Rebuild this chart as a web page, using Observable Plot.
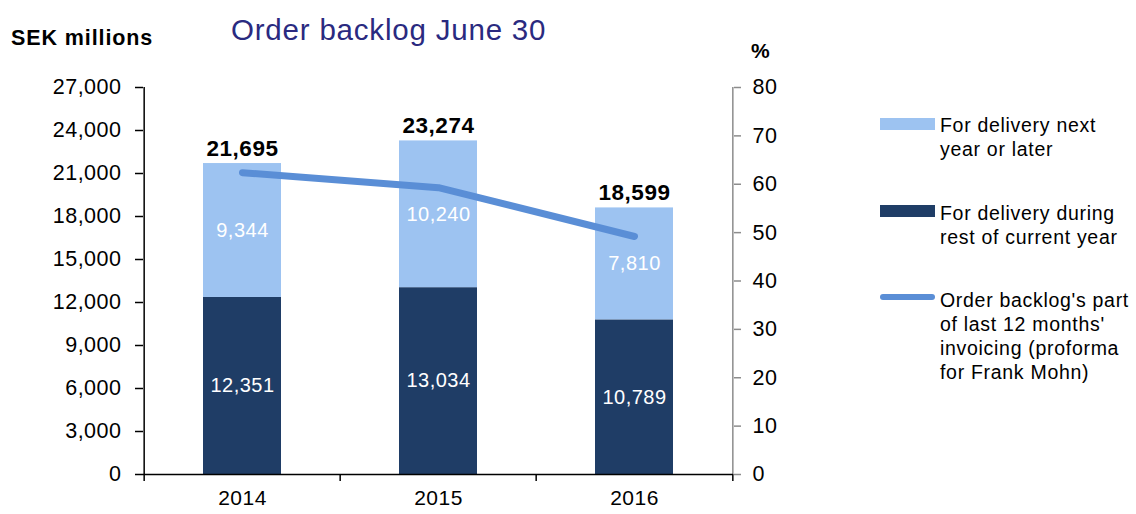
<!DOCTYPE html>
<html>
<head>
<meta charset="utf-8">
<script src="https://cdn.jsdelivr.net/npm/d3@7"></script>
<script src="https://cdn.jsdelivr.net/npm/@observablehq/plot@0.6"></script>
<style>
  html, body { margin: 0; padding: 0; background: #fff; }
  #wrap { position: relative; width: 1136px; height: 514px; font-family: "Liberation Sans", Arial, sans-serif; letter-spacing: 0.6px; color: #000; }
  #chart { position: absolute; left: 0; top: 0; }
  .abs { position: absolute; white-space: nowrap; }
  #title { left: 231px; top: 15px; font-size: 29.5px; color: #2A2A80; line-height: 1; letter-spacing: 0.8px; }
  #unitL { left: 11px; top: 28px; font-size: 21.5px; font-weight: bold; line-height: 1; letter-spacing: 0.9px; }
  #unitR { left: 751px; top: 40px; font-size: 21px; font-weight: bold; line-height: 1; }
  .lg-text { font-size: 19.5px; line-height: 24px; left: 940px; letter-spacing: 0.7px; }
  .sw { position: absolute; left: 880px; width: 55px; }
</style>
</head>
<body>
<div id="wrap">
  <div id="chart"></div>
  <div class="abs" id="title">Order backlog June 30</div>
  <div class="abs" id="unitL">SEK millions</div>
  <div class="abs" id="unitR">%</div>
  <div id="legend"></div>
</div>
<script>
// ---- Data ----
const years = ["2014", "2015", "2016"];
const currentYear = [12351, 13034, 10789];   // For delivery during rest of current year
const nextYear = [9344, 10240, 7810];         // For delivery next year or later
const totals = [21695, 23274, 18599];
const sharePct = [62.4, 59.3, 49.2];          // Order backlog's part of last 12 months' invoicing (%)
const seriesNames = ["For delivery during rest of current year", "For delivery next year or later"];
const seriesColors = ["#1F3D66", "#9DC3F1"];
const lineName = "Order backlog's part of last 12 months' invoicing (proforma for Frank Mohn)";
const lineColor = "#5A8ED6";
const leftTicks = [0, 3000, 6000, 9000, 12000, 15000, 18000, 21000, 24000, 27000];
const rightTicks = [0, 10, 20, 30, 40, 50, 60, 70, 80];

// ---- Layout ----
const W = 1136, H = 514;
const mL = 143, mR = 403, mT = 87, mB = 40;
const yMax = 27000, pMax = 80;
const k = yMax / pMax; // percent -> left-axis units
const step = (W - mL - mR) / years.length;
const tickPx = 7;
const tickData = tickPx * yMax / (H - mT - mB);

const rows = [];
years.forEach((y, i) => {
  rows.push({year: y, series: seriesNames[0], value: currentYear[i]});
  rows.push({year: y, series: seriesNames[1], value: nextYear[i]});
});
const tot = years.map((y, i) => ({year: y, total: totals[i]}));
const line = years.map((y, i) => ({year: y, pct: sharePct[i]}));

const chart = Plot.plot({
  width: W, height: H,
  marginLeft: mL, marginRight: mR, marginTop: mT, marginBottom: mB,
  style: {fontFamily: '"Liberation Sans", Arial, sans-serif', fontSize: "21.5px", letterSpacing: "0.5px", color: "#000", background: "transparent"},
  x: {domain: years, paddingInner: 0.6, paddingOuter: 0.3, axis: null, label: null},
  y: {domain: [0, yMax], axis: null, label: null},
  color: {domain: seriesNames, range: seriesColors},
  marks: [
    Plot.barY(rows, {x: "year", y: "value", fill: "series", order: seriesNames}),
    // segment labels
    Plot.text(rows, Plot.stackY({x: "year", y: "value", z: "series", order: seriesNames,
      text: d => d3.format(",")(d.value), fill: "white", fontSize: 20})),
    // totals
    Plot.text(tot, {x: "year", y: "total", text: d => d3.format(",")(d.total),
      lineAnchor: "bottom", dy: -8, fontWeight: "bold", fontSize: 22.5}),
    // line on secondary axis
    Plot.line(line, {x: "year", y: d => d.pct * k, stroke: lineColor, strokeWidth: 7, strokeLinecap: "round", strokeLinejoin: "round"}),
    // left axis
    Plot.axisY(leftTicks, {anchor: "left", label: null, tickSize: 8, tickPadding: 14, tickFormat: d3.format(","), stroke: "#000", strokeWidth: 1.5}),
    Plot.ruleX([years[0]], {x: d => d, dx: -step / 2, y1: 0, y2: yMax, stroke: "#000", strokeWidth: 1.5}),
    // right axis
    Plot.axisY(rightTicks.map(v => v * k), {anchor: "right", label: null, tickSize: 7, tickPadding: 12, tickFormat: d => d / k, stroke: "#8C8C8C", strokeWidth: 1.5, fill: "#000"}),
    Plot.ruleX([years[years.length - 1]], {x: d => d, dx: step / 2, y1: 0, y2: yMax, stroke: "#8C8C8C", strokeWidth: 1.5}),
    // x axis
    Plot.ruleY([0], {stroke: "#000", strokeWidth: 1.5}),
    Plot.ruleX(years, {x: d => d, dx: -step / 2, y1: 0, y2: -tickData, stroke: "#000", strokeWidth: 1.5}),
    Plot.ruleX([years[years.length - 1]], {x: d => d, dx: step / 2, y1: 0, y2: -tickData, stroke: "#000", strokeWidth: 1.5}),
    Plot.axisX(years, {anchor: "bottom", label: null, tickSize: 0, tickPadding: 16, fontSize: 21})
  ]
});
document.getElementById("chart").appendChild(chart);

// ---- Legend ----
const legend = document.getElementById("legend");
const items = [
  {color: seriesColors[1], kind: "rect", lines: ["For delivery next", "year or later"], top: 113, swTop: 118},
  {color: seriesColors[0], kind: "rect", lines: ["For delivery during", "rest of current year"], top: 201, swTop: 205},
  {color: lineColor, kind: "line", lines: ["Order backlog's part", "of last 12 months'", "invoicing (proforma", "for Frank Mohn)"], top: 288, swTop: 294}
];
items.forEach(it => {
  const sw = document.createElement("div");
  sw.className = "sw";
  sw.style.top = it.swTop + "px";
  sw.style.background = it.color;
  if (it.kind === "rect") { sw.style.height = "12px"; }
  else { sw.style.height = "6px"; sw.style.borderRadius = "3px"; }
  legend.appendChild(sw);
  const t = document.createElement("div");
  t.className = "abs lg-text";
  t.style.top = it.top + "px";
  t.innerHTML = it.lines.join("<br>");
  legend.appendChild(t);
});
</script>
</body>
</html>
